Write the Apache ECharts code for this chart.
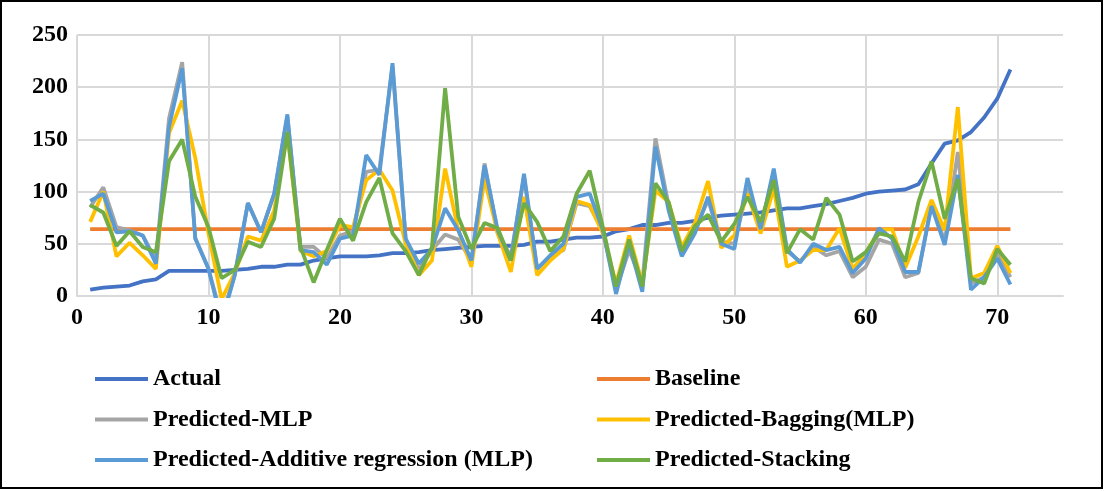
<!DOCTYPE html>
<html>
<head>
<meta charset="utf-8">
<script src="https://cdn.jsdelivr.net/npm/echarts@6/dist/echarts.min.js"></script>
<style>
  html, body { margin: 0; padding: 0; background: #fff; }
  #chart { width: 1104px; height: 491px; }
</style>
</head>
<body>
<div id="chart"></div>
<script>
// x positions 1..71
var xTicks = [0, 10, 20, 30, 40, 50, 60, 70];
var yTicks = [0, 50, 100, 150, 200, 250];

var actual = [6, 8, 9, 10, 14, 16, 24, 24, 24, 24, 24, 25, 26, 28, 28, 30, 30, 34, 36, 38,
    38, 38, 39, 41, 41, 42, 44, 45, 46, 47, 48, 48, 48, 49, 52, 52, 54, 56, 56, 57,
    62, 64, 68, 68, 70, 70, 72, 75, 77, 78, 79, 80, 82, 84, 84, 86, 88, 91, 94, 98,
    100, 101, 102, 107, 127, 146, 149, 157, 171, 189, 217];
var baseline = [64, 64, 64, 64, 64, 64, 64, 64, 64, 64, 64, 64, 64, 64, 64, 64, 64, 64, 64, 64,
    64, 64, 64, 64, 64, 64, 64, 64, 64, 64, 64, 64, 64, 64, 64, 64, 64, 64, 64, 64,
    64, 64, 64, 64, 64, 64, 64, 64, 64, 64, 64, 64, 64, 64, 64, 64, 64, 64, 64, 64,
    64, 64, 64, 64, 64, 64, 64, 64, 64, 64, 64];
var predMLP = [85, 104, 66, 63, 58, 34, 170, 224, 55, 26, -20, 20, 89, 61, 98, 172, 47, 47, 36, 58,
    62, 119, 121, 220, 54, 25, 44, 59, 54, 34, 127, 60, 38, 114, 26, 38, 44, 89, 86, 63,
    6, 44, 12, 151, 87, 41, 63, 92, 52, 50, 103, 66, 118, 43, 33, 47, 39, 43, 18, 28,
    54, 50, 18, 22, 89, 52, 138, 12, 18, 41, 18];
var predBagging = [71, 100, 38, 51, 39, 26, 156, 187, 132, 60, -3, 22, 57, 53, 82, 157, 43, 38, 43, 68,
    66, 111, 121, 101, 50, 20, 34, 122, 63, 28, 112, 60, 23, 95, 20, 34, 45, 91, 87, 60,
    12, 58, 12, 101, 90, 47, 70, 110, 46, 58, 98, 60, 103, 28, 34, 44, 44, 65, 26, 41,
    63, 64, 27, 57, 92, 63, 181, 17, 22, 48, 22];
var predAdditive = [91, 98, 61, 62, 58, 31, 162, 218, 55, 26, -25, 20, 89, 61, 98, 174, 44, 42, 30, 55,
    58, 135, 116, 223, 55, 31, 45, 84, 63, 34, 125, 63, 34, 117, 26, 39, 50, 95, 98, 63,
    2, 50, 4, 143, 82, 38, 60, 95, 50, 45, 113, 64, 122, 45, 32, 50, 44, 47, 22, 36,
    65, 55, 23, 23, 86, 49, 116, 6, 18, 36, 11];
var predStacking = [87, 80, 48, 62, 47, 42, 129, 150, 95, 66, 17, 25, 52, 47, 74, 157, 47, 13, 44, 74,
    53, 90, 113, 60, 43, 20, 47, 199, 76, 45, 70, 65, 34, 89, 71, 43, 57, 98, 120, 66,
    9, 54, 9, 108, 90, 43, 67, 78, 52, 69, 95, 71, 111, 41, 64, 54, 94, 78, 33, 42,
    60, 57, 33, 90, 129, 74, 112, 17, 12, 45, 30];

var names = ['Actual', 'Baseline', 'Predicted-MLP', 'Predicted-Bagging(MLP)',
    'Predicted-Additive regression (MLP)', 'Predicted-Stacking'];
var colors = ['#4472C4', '#ED7D31', '#A5A5A5', '#FFC000', '#5B9BD5', '#70AD47'];
var values = [actual, baseline, predMLP, predBagging, predAdditive, predStacking];

function toPairs(arr) {
    return arr.map(function (v, i) { return [i + 1, v]; });
}

var font = 'Liberation Serif';
var chart = echarts.init(document.getElementById('chart'));

var legendText = {
    fontFamily: font,
    fontWeight: 'bold',
    fontSize: 24,
    color: '#000',
    lineHeight: 24
};

var option = {
    animation: false,
    color: colors,
    graphic: [{
        type: 'rect',
        shape: { x: 1, y: 1, width: 1101, height: 487 },
        style: { fill: 'none', stroke: '#000', lineWidth: 2 },
        silent: true
    }],
    grid: { left: 77, right: 41, top: 35, bottom: 195 },
    legend: [
        {
            orient: 'vertical',
            left: 95,
            top: 367,
            padding: 0,
            itemWidth: 53,
            itemHeight: 4,
            itemGap: 16.5,
            icon: 'rect',
            textStyle: legendText,
            data: [names[0], names[2], names[4]]
        },
        {
            orient: 'vertical',
            left: 597,
            top: 367,
            padding: 0,
            itemWidth: 53,
            itemHeight: 4,
            itemGap: 16.5,
            icon: 'rect',
            textStyle: legendText,
            data: [names[1], names[3], names[5]]
        }
    ],
    xAxis: {
        type: 'value',
        min: xTicks[0],
        max: 75,
        interval: 10,
        axisLine: { show: true, lineStyle: { color: '#D9D9D9', width: 2 } },
        axisTick: { show: false },
        axisLabel: {
            showMaxLabel: false,
            margin: 10,
            fontFamily: font,
            fontWeight: 'bold',
            fontSize: 24,
            color: '#000'
        },
        splitLine: { show: true, showMaxLine: false, lineStyle: { color: '#D9D9D9', width: 2 } }
    },
    yAxis: {
        type: 'value',
        min: yTicks[0],
        max: yTicks[yTicks.length - 1],
        interval: 50,
        axisLine: { show: false },
        axisTick: { show: false },
        axisLabel: {
            margin: 9,
            fontFamily: font,
            fontWeight: 'bold',
            fontSize: 24,
            color: '#000'
        },
        splitLine: { show: true, lineStyle: { color: '#D9D9D9', width: 2 } }
    },
    series: names.map(function (n, k) {
        return {
            name: n,
            type: 'line',
            data: toPairs(values[k]),
            symbol: 'none',
            clip: true,
            lineStyle: { width: 3.8, color: colors[k] },
            itemStyle: { color: colors[k] }
        };
    })
};

chart.setOption(option);
</script>
</body>
</html>
